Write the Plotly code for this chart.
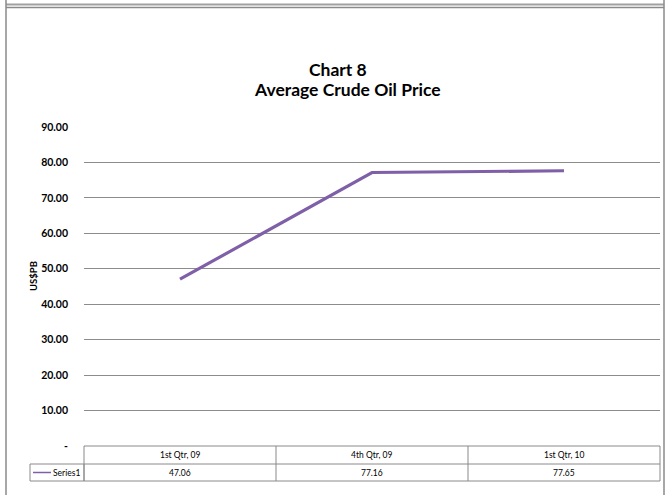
import plotly.graph_objects as go

categories = ["1st Qtr, 09", "4th Qtr, 09", "1st Qtr, 10"]
values = [47.06, 77.16, 77.65]
series_name = "Series1"
y_ticks = [0, 10, 20, 30, 40, 50, 60, 70, 80, 90]
y_tick_labels = ["-", "10.00", "20.00", "30.00", "40.00", "50.00", "60.00", "70.00", "80.00", "90.00"]

W, H = 665, 495
def px(x):
    return x / W
def py(y):
    return (H - y) / H

LINE_COLOR = "#7F60A8"
GRID = "#8c8c8c"
FONT = "Lato, 'Open Sans', sans-serif"

fig = go.Figure()
xs = list(range(len(categories)))
fig.add_trace(go.Scatter(x=xs, y=values, mode="lines", name=series_name,
                         line=dict(color=LINE_COLOR, width=3.2), showlegend=False))

plot_l, plot_r, plot_b, plot_t = 84, 660, 446, 127
fig.update_layout(
    width=W, height=H, margin=dict(l=0, r=0, t=0, b=0, autoexpand=False),
    paper_bgcolor="white", plot_bgcolor="white",
    xaxis=dict(domain=[px(plot_l), px(plot_r)], range=[-0.5, len(categories) - 0.5],
               showgrid=False, showticklabels=False, zeroline=False, showline=False, ticks=""),
    yaxis=dict(domain=[py(plot_b), py(plot_t)], range=[0, 90], tickvals=y_ticks,
               ticktext=y_tick_labels, showgrid=True, gridcolor=GRID, gridwidth=1,
               zeroline=False, showline=False, ticks="", ticklabelstandoff=15, automargin=False,
               tickfont=dict(family=FONT, size=10.5, color="black", weight="bold")),
    font=dict(family=FONT),
)

shapes = []
# outer frames
shapes.append(dict(type="line", xref="paper", yref="paper", x0=px(6), x1=px(664), y0=py(4.5), y1=py(4.5), line=dict(color="#a0a0a0", width=2)))
shapes.append(dict(type="rect", xref="paper", yref="paper", x0=px(6), x1=px(664), y0=py(500), y1=py(7.5), line=dict(color="#8a8a8a", width=1.5)))
shapes.append(dict(type="line", xref="paper", yref="paper", x0=px(6), x1=px(6), y0=py(0), y1=py(7), line=dict(color="#8a8a8a", width=1.5)))
shapes.append(dict(type="line", xref="paper", yref="paper", x0=px(664), x1=px(664), y0=py(0), y1=py(7), line=dict(color="#8a8a8a", width=1.5)))

# data table
row_top, row_mid, row_bot = 446, 464, 481
legend_l = 30
tcol = "#8a8a8a"
ncat = len(categories)
col_w = (plot_r - plot_l) / ncat
shapes.append(dict(type="rect", xref="paper", yref="paper", x0=px(plot_l), x1=px(plot_r), y0=py(row_bot), y1=py(row_top), line=dict(color=tcol, width=1)))
shapes.append(dict(type="rect", xref="paper", yref="paper", x0=px(legend_l), x1=px(plot_l), y0=py(row_bot), y1=py(row_mid), line=dict(color=tcol, width=1)))
shapes.append(dict(type="line", xref="paper", yref="paper", x0=px(plot_l), x1=px(plot_r), y0=py(row_mid), y1=py(row_mid), line=dict(color=tcol, width=1)))
for i in range(1, ncat):
    xx = plot_l + i * col_w
    shapes.append(dict(type="line", xref="paper", yref="paper", x0=px(xx), x1=px(xx), y0=py(row_bot), y1=py(row_top), line=dict(color=tcol, width=1)))
# legend key
shapes.append(dict(type="line", xref="paper", yref="paper", x0=px(33), x1=px(51), y0=py(472.5), y1=py(472.5), line=dict(color=LINE_COLOR, width=1.5)))

TF = dict(family=FONT, size=8.5, color="black")
annotations = []
for i, (c, v) in enumerate(zip(categories, values)):
    annotations.append(dict(x=i, xref="x", y=py((row_top + row_mid) / 2), yref="paper", text=c,
                            xanchor="center", yanchor="middle", showarrow=False, font=TF))
    annotations.append(dict(x=i, xref="x", y=py((row_mid + row_bot) / 2), yref="paper", text=f"{v:.2f}",
                            xanchor="center", yanchor="middle", showarrow=False, font=TF))
annotations.append(dict(x=px(51), xref="paper", y=py(472.5), yref="paper", text=series_name,
                        xanchor="left", yanchor="middle", showarrow=False, font=TF))
# title
annotations.append(dict(x=px(338), xref="paper", y=py(69), yref="paper", text="Chart 8", showarrow=False,
                        xanchor="center", yanchor="middle",
                        font=dict(family=FONT, size=17.5, color="black", weight="bold")))
annotations.append(dict(x=px(347), xref="paper", y=py(90), yref="paper", text="Average Crude Oil Price", showarrow=False,
                        xanchor="center", yanchor="middle",
                        font=dict(family=FONT, size=17.5, color="black", weight="bold")))
# y axis title
annotations.append(dict(x=px(33), xref="paper", y=py(276), yref="paper", text="US$PB", textangle=-90, showarrow=False,
                        xanchor="center", yanchor="middle",
                        font=dict(family=FONT, size=9.5, color="black", weight="bold")))

fig.update_layout(shapes=shapes, annotations=annotations)
fig.write_html("out.html", config={"displayModeBar": False},
               post_script="document.body.style.margin='0';document.body.style.overflow='hidden';")
